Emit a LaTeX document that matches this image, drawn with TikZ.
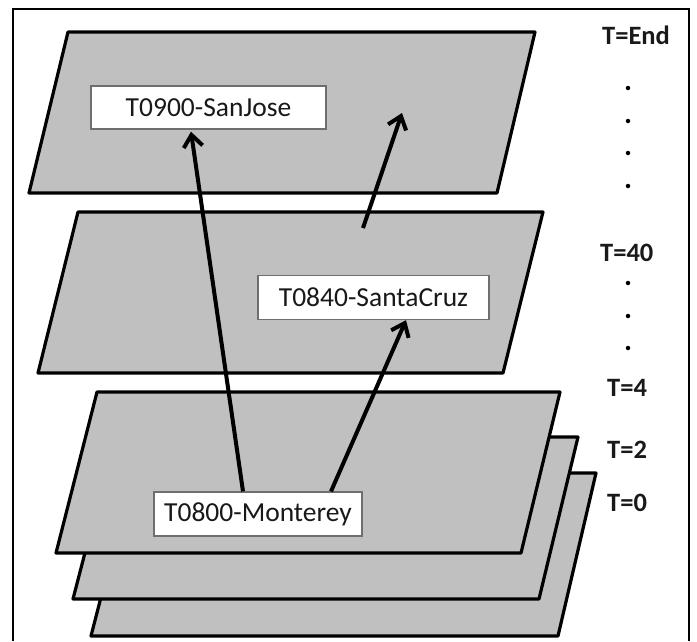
\documentclass[tikz,border=0pt]{standalone}
\usepackage{fontspec}
\setmainfont{Carlito}
\usetikzlibrary{arrows.meta}
\definecolor{planegray}{RGB}{192,192,192}
\definecolor{boxgray}{RGB}{110,110,110}
\definecolor{textdark}{RGB}{25,25,25}
\begin{document}
\begin{tikzpicture}[x=1pt,y=-1pt,
  plane/.style={draw=black, fill=planegray, line width=3.2pt, line join=round},
  lbox/.style={draw=boxgray, fill=white, line width=1.3pt, inner sep=0pt, font=\fontsize{27.5}{32}\selectfont, text=textdark},
  tlabel/.style={anchor=west, inner sep=0pt, font=\fontsize{26.5}{30}\selectfont\bfseries, text=textdark},
  tdot/.style={circle, fill=black, inner sep=0pt, minimum size=4.5pt},
  arr/.style={line width=4pt, -{Straight Barb[length=12pt,width=19pt]}}]
\useasboundingbox (0,0) rectangle (697,641);
% frame
\draw[line width=2pt] (13,641) -- (13,9) -- (689,9) -- (689,641);
% planes
\draw[plane] (68,32) -- (535,32) -- (497,193) -- (29,193) -- cycle;
\draw[plane] (78,212) -- (543,212) -- (503,373) -- (38,373) -- cycle;
\draw[plane] (133,473) -- (596,473) -- (558,636) -- (91,636) -- cycle;
\draw[plane] (115,437) -- (578,437) -- (539,599) -- (73,599) -- cycle;
\draw[plane] (97,392) -- (560,392) -- (521,553) -- (56,553) -- cycle;
% boxes
\node[lbox, minimum width=235pt, minimum height=43pt] (sj) at (208.5,107.5) {T0900-SanJose};
\node[lbox, minimum width=231pt, minimum height=44pt] (sc) at (373.5,297.5) {T0840-SantaCruz};
\node[lbox, minimum width=208pt, minimum height=44pt] (mt) at (258,514) {T0800-Monterey};
% arrows
\draw[arr] ([xshift=-15pt]mt.north) -- ([xshift=-17.5pt,yshift=-2pt]sj.south);
\draw[arr] ([xshift=73pt]mt.north) -- ([xshift=32.5pt]sc.south);
\coordinate (a3s) at (363,228);
\coordinate (a3e) at (402,113);
\draw[arr] (a3s) -- (a3e);
% time labels
\node[tlabel] (tend) at (602,35) {T=End};
\node[tlabel] (t40) at (600,253) {T=40};
\node[tlabel] (t4) at (607,388) {T=4};
\node[tlabel] (t2) at (607,450) {T=2};
\node[tlabel] (t0) at (607,503) {T=0};
% dots
\node[tdot] (d1) at (628,88) {};
\node[tdot] (d2) at (628,121) {};
\node[tdot] (d3) at (628,153) {};
\node[tdot] (d4) at (628,186) {};
\node[tdot] (d5) at (628,283) {};
\node[tdot] (d6) at (628,316) {};
\node[tdot] (d7) at (628,348) {};
\end{tikzpicture}
\end{document}
